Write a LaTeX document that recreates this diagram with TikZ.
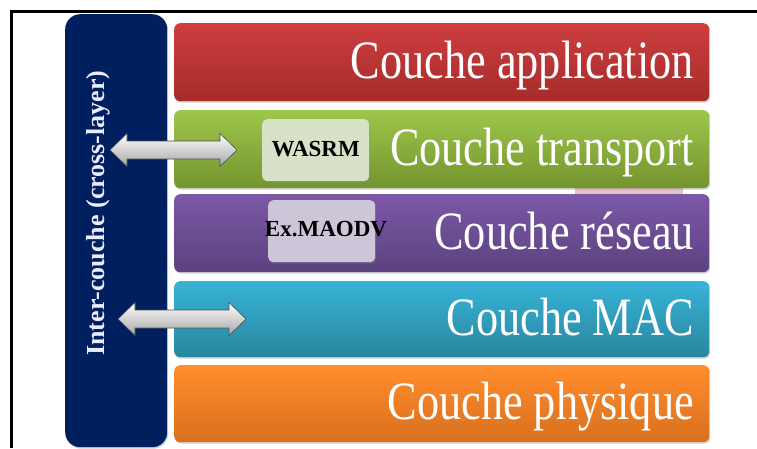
\documentclass[tikz,border=0pt]{standalone}
\usepackage{fontspec}
\setmainfont{Liberation Serif}
\newfontfamily\layerfont[FakeStretch=0.82]{Liberation Serif}
\usetikzlibrary{shadows}

\definecolor{appTop}{HTML}{CE3E3E}
\definecolor{appBot}{HTML}{A62B2B}
\definecolor{trTop}{HTML}{9EC64B}
\definecolor{trBot}{HTML}{74942E}
\definecolor{resTop}{HTML}{7C58A7}
\definecolor{resBot}{HTML}{5C4280}
\definecolor{macTop}{HTML}{37B3D7}
\definecolor{macBot}{HTML}{29869F}
\definecolor{phyTop}{HTML}{FF8D2C}
\definecolor{phyBot}{HTML}{D9701F}
\definecolor{crossBlue}{HTML}{001F5E}
\definecolor{wasrmFill}{HTML}{D8E2C8}
\definecolor{maodvFill}{HTML}{CDC6D9}
\definecolor{sliver}{HTML}{E6C2C5}

\tikzset{
  layer/.style={rounded corners=6pt, minimum width=535, minimum height=78,
    anchor=north west, inner sep=0pt,
    drop shadow={shadow xshift=1pt, shadow yshift=-1.5pt, opacity=0.35}},
  layertext/.style={anchor=base east, text=white, font=\layerfont\fontsize{54}{56}\selectfont},
  proto/.style={rounded corners=5pt, inner sep=0pt, anchor=north west,
    drop shadow={shadow xshift=1pt, shadow yshift=-1.5pt, opacity=0.3}},
  prototext/.style={text=black, font=\bfseries\fontsize{23}{25}\selectfont},
  blockarrow/.style={top color=white, bottom color=black!35, draw=black!70, line width=0.6pt}
}

% double block arrow: left tip, right tip, height
\newcommand\crossarrow[3]{%
  \path[blockarrow] (#1,#3) -- ++(17,-16.5) -- ++(0,7.5) -- (#2-17,#3-9)
    -- ++(0,-7.5) -- (#2,#3) -- ++(-17,16.5) -- ++(0,-7.5) -- (#1+17,#3+9)
    -- ++(0,7.5) -- cycle;}

\begin{document}
\begin{tikzpicture}[x=1pt,y=-1pt]
  \useasboundingbox (0,0) rectangle (757,448);

  % frame
  \draw[line width=3pt] (757,11) -- (11,11) -- (11,448);

  % cross-layer column
  \node[fill=crossBlue, rounded corners=15pt, minimum width=102, minimum height=433,
    anchor=north west, inner sep=0pt,
    drop shadow={shadow xshift=1pt, shadow yshift=-1.5pt, opacity=0.35}] (cross) at (65,14) {};
  \node[rotate=90, text=white!92!blue, font=\bfseries\fontsize{26}{28}\selectfont]
    (crosstext) at (98,213) {Inter-couche (cross-layer)};

  % stack of layers
  \fill[sliver] (575,185) rectangle (683,196);
  \node[layer, top color=appTop, bottom color=appBot] (app) at (174,23) {};
  \node[layer, top color=trTop, bottom color=trBot] (transport) at (174,110) {};
  \node[layer, top color=resTop, bottom color=resBot] (reseau) at (174,194) {};
  \node[layer, top color=macTop, bottom color=macBot, minimum height=76] (mac) at (174,281) {};
  \node[layer, top color=phyTop, bottom color=phyBot, minimum height=77] (phy) at (174,365) {};

  \node[layertext] (appText) at ([xshift=-12pt, yshift=-16pt]app.east) {Couche application};
  \node[layertext] (transportText) at ([xshift=-12pt, yshift=-16pt]transport.east) {Couche transport};
  \node[layertext] (reseauText) at ([xshift=-12pt, yshift=-16pt]reseau.east) {Couche réseau};
  \node[layertext] (macText) at ([xshift=-12pt, yshift=-16pt]mac.east) {Couche MAC};
  \node[layertext] (phyText) at ([xshift=-12pt, yshift=-16pt]phy.east) {Couche physique};

  % protocols
  \node[proto, fill=wasrmFill, minimum width=107, minimum height=62] (wasrm) at (262,119) {};
  \node[prototext] (wasrmText) at ([yshift=1pt]wasrm.center) {WASRM};
  \node[proto, fill=maodvFill, minimum width=107, minimum height=62] (maodv) at (268,200) {};
  \node[prototext] (maodvText) at (326,229) {Ex.MAODV};

  % cross-layer interactions
  \crossarrow{110}{237}{150}
  \crossarrow{118}{246}{319}
\end{tikzpicture}
\end{document}
